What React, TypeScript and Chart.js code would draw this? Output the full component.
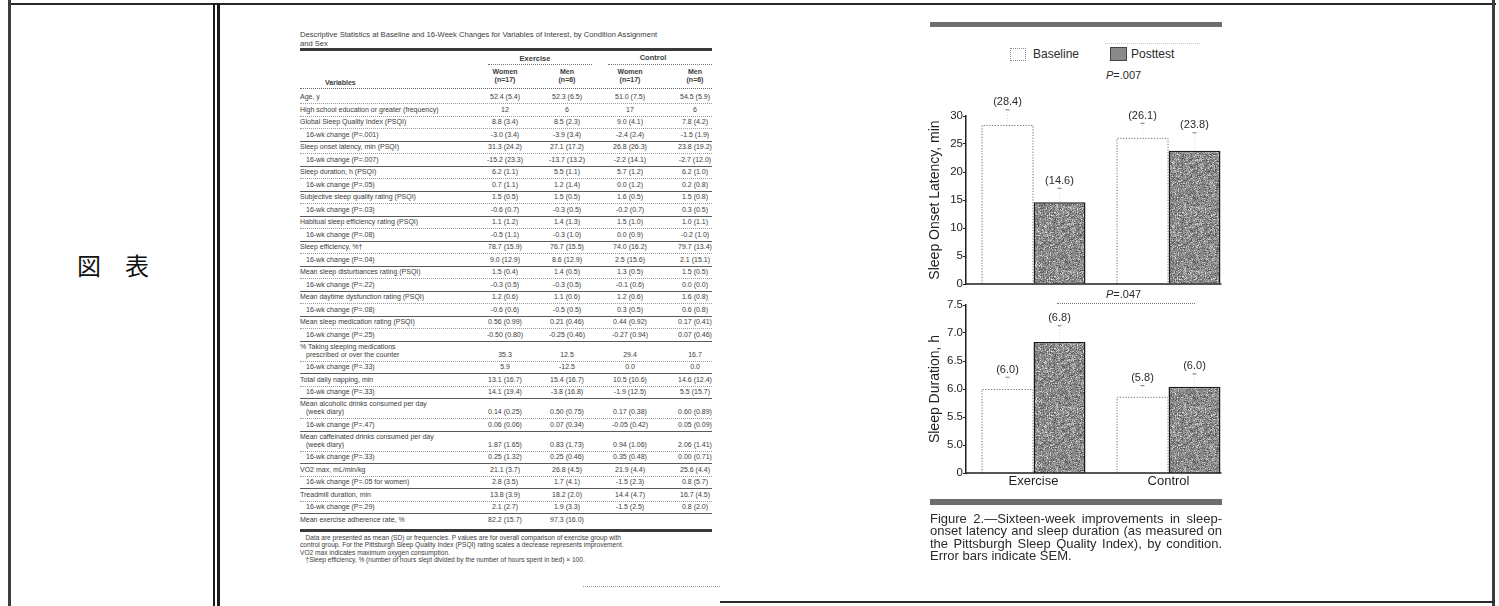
import React, { useEffect, useRef } from "react";
import { Chart, registerables } from "chart.js";

Chart.register(...registerables);

// ---------- chart data ----------
const groups = ["Exercise", "Control"];
const seriesNames = ["Baseline", "Posttest"];

const latencyBaseline = [28.4, 26.1];
const latencyPosttest = [14.6, 23.8];
const latencyBaselineSem = [2.7, 2.6];
const latencyPosttestSem = [2.5, 3.2];
const latencyBaselineLabels = ["(28.4)", "(26.1)"];
const latencyPosttestLabels = ["(14.6)", "(23.8)"];

const durationBaseline = [6.0, 5.86];
const durationPosttest = [6.84, 6.04];
const durationBaselineSem = [0.21, 0.2];
const durationPosttestSem = [0.29, 0.23];
const durationBaselineLabels = ["(6.0)", "(5.8)"];
const durationPosttestLabels = ["(6.8)", "(6.0)"];

const latencyTickMin = 0;
const latencyTickMax = 30;
const latencyTickStep = 5;
const durationTickMin = 4.5;
const durationTickMax = 7.5;
const durationTickStep = 0.5;
const durationBreakLabel = "0";

// ---------- table data ----------
const tableTitle = [
  "Descriptive Statistics at Baseline and 16-Week Changes for Variables of Interest, by Condition Assignment",
  "and Sex",
];
const tableLabels = [
  "Age, y",
  "High school education or greater (frequency)",
  "Global Sleep Quality Index (PSQI)",
  "16-wk change (P=.001)",
  "Sleep onset latency, min (PSQI)",
  "16-wk change (P=.007)",
  "Sleep duration, h (PSQI)",
  "16-wk change (P=.05)",
  "Subjective sleep quality rating (PSQI)",
  "16-wk change (P=.03)",
  "Habitual sleep efficiency rating (PSQI)",
  "16-wk change (P=.08)",
  "Sleep efficiency, %\u2020",
  "16-wk change (P=.04)",
  "Mean sleep disturbances rating (PSQI)",
  "16-wk change (P=.22)",
  "Mean daytime dysfunction rating (PSQI)",
  "16-wk change (P=.08)",
  "Mean sleep medication rating (PSQI)",
  "16-wk change (P=.25)",
  "% Taking sleeping medications|prescribed or over the counter",
  "16-wk change (P=.33)",
  "Total daily napping, min",
  "16-wk change (P=.33)",
  "Mean alcoholic drinks consumed per day|(week diary)",
  "16-wk change (P=.47)",
  "Mean caffeinated drinks consumed per day|(week diary)",
  "16-wk change (P=.33)",
  "VO2 max, mL/min/kg",
  "16-wk change (P=.05 for women)",
  "Treadmill duration, min",
  "16-wk change (P=.29)",
  "Mean exercise adherence rate, %",
];
const exerciseWomen = [
  "52.4 (5.4)", "12", "8.8 (3.4)", "-3.0 (3.4)", "31.3 (24.2)", "-15.2 (23.3)", "6.2 (1.1)", "0.7 (1.1)",
  "1.5 (0.5)", "-0.6 (0.7)", "1.1 (1.2)", "-0.5 (1.1)", "78.7 (15.9)", "9.0 (12.9)", "1.5 (0.4)", "-0.3 (0.5)",
  "1.2 (0.6)", "-0.6 (0.6)", "0.56 (0.99)", "-0.50 (0.80)", "35.3", "5.9", "13.1 (16.7)", "14.1 (19.4)",
  "0.14 (0.25)", "0.06 (0.06)", "1.87 (1.65)", "0.25 (1.32)", "21.1 (3.7)", "2.8 (3.5)", "13.8 (3.9)", "2.1 (2.7)",
  "82.2 (15.7)",
];
const exerciseMen = [
  "52.3 (6.5)", "6", "8.5 (2.3)", "-3.9 (3.4)", "27.1 (17.2)", "-13.7 (13.2)", "5.5 (1.1)", "1.2 (1.4)",
  "1.5 (0.5)", "-0.3 (0.5)", "1.4 (1.3)", "-0.3 (1.0)", "76.7 (15.5)", "8.6 (12.9)", "1.4 (0.5)", "-0.3 (0.5)",
  "1.1 (0.6)", "-0.5 (0.5)", "0.21 (0.46)", "-0.25 (0.46)", "12.5", "-12.5", "15.4 (16.7)", "-3.8 (16.8)",
  "0.50 (0.75)", "0.07 (0.34)", "0.83 (1.73)", "0.25 (0.46)", "26.8 (4.5)", "1.7 (4.1)", "18.2 (2.0)", "1.9 (3.3)",
  "97.3 (16.0)",
];
const controlWomen = [
  "51.0 (7.5)", "17", "9.0 (4.1)", "-2.4 (2.4)", "26.8 (26.3)", "-2.2 (14.1)", "5.7 (1.2)", "0.0 (1.2)",
  "1.6 (0.5)", "-0.2 (0.7)", "1.5 (1.0)", "0.0 (0.9)", "74.0 (16.2)", "2.5 (15.6)", "1.3 (0.5)", "-0.1 (0.6)",
  "1.2 (0.6)", "0.3 (0.5)", "0.44 (0.92)", "-0.27 (0.94)", "29.4", "0.0", "10.5 (10.6)", "-1.9 (12.5)",
  "0.17 (0.38)", "-0.05 (0.42)", "0.94 (1.06)", "0.35 (0.48)", "21.9 (4.4)", "-1.5 (2.3)", "14.4 (4.7)", "-1.5 (2.5)",
  "",
];
const controlMen = [
  "54.5 (5.9)", "6", "7.8 (4.2)", "-1.5 (1.9)", "23.8 (19.2)", "-2.7 (12.0)", "6.2 (1.0)", "0.2 (0.8)",
  "1.5 (0.8)", "0.3 (0.5)", "1.0 (1.1)", "-0.2 (1.0)", "79.7 (13.4)", "2.1 (15.1)", "1.5 (0.5)", "0.0 (0.0)",
  "1.6 (0.8)", "0.6 (0.8)", "0.17 (0.41)", "0.07 (0.46)", "16.7", "0.0", "14.6 (12.4)", "5.5 (15.7)",
  "0.60 (0.89)", "0.05 (0.09)", "2.06 (1.41)", "0.00 (0.71)", "25.6 (4.4)", "0.8 (5.7)", "16.7 (4.5)", "0.8 (2.0)",
  "",
];
const tableFootnotes = [
  "\u00a0\u00a0\u00a0Data are presented as mean (SD) or frequencies. P values are for overall comparison of exercise group with",
  "control group. For the Pittsburgh Sleep Quality Index (PSQI) rating scales a decrease represents improvement.",
  "VO2 max indicates maximum oxygen consumption.",
  "\u00a0\u00a0\u00a0\u2020Sleep efficiency, % (number of hours slept divided by the number of hours spent in bed) \u00d7 100.",
];
const captionLines = [
  "Figure 2.\u2014Sixteen-week improvements in sleep-",
  "onset latency and sleep duration (as measured on",
  "the Pittsburgh Sleep Quality Index), by condition.",
  "Error bars indicate SEM.",
];

const FONT = "'Liberation Sans', Arial, Helvetica, sans-serif";

function makeSpeckle(ctx: CanvasRenderingContext2D): CanvasPattern | string {
  const c = document.createElement("canvas");
  c.width = 64;
  c.height = 64;
  const g = c.getContext("2d");
  if (!g) return "#8c8c8c";
  g.fillStyle = "#8a8a8a";
  g.fillRect(0, 0, 64, 64);
  let s = 987654321;
  const rnd = () => {
    s = (s * 1103515245 + 12345) % 2147483648;
    return s / 2147483648;
  };
  for (let i = 0; i < 2200; i++) {
    const x = Math.floor(rnd() * 64);
    const y = Math.floor(rnd() * 64);
    const v = rnd();
    g.fillStyle = v < 0.45 ? "#5c5c5c" : v < 0.9 ? "#b8b8b8" : "#dcdcdc";
    g.fillRect(x, y, 1, 1);
  }
  return ctx.createPattern(c, "repeat") || "#8c8c8c";
}

function makeDecor(
  baseSem: number[],
  postSem: number[],
  baseLabels: string[],
  postLabels: string[]
) {
  return {
    id: "decor",
    afterDatasetsDraw(chart: any) {
      const ctx = chart.ctx as CanvasRenderingContext2D;
      const y = chart.scales.y;
      const area = chart.chartArea;
      const m0 = chart.getDatasetMeta(0);
      const m1 = chart.getDatasetMeta(1);
      ctx.save();
      // dotted outline of baseline bars
      ctx.strokeStyle = "#6f6f6f";
      ctx.lineWidth = 1;
      ctx.setLineDash([1.2, 1.6]);
      m0.data.forEach((el: any) => {
        const l = el.x - el.width / 2;
        const r = el.x + el.width / 2;
        const b = Math.min(el.base, area.bottom);
        ctx.beginPath();
        ctx.moveTo(l + 0.5, b);
        ctx.lineTo(l + 0.5, el.y + 0.5);
        ctx.lineTo(r - 0.5, el.y + 0.5);
        ctx.lineTo(r - 0.5, b);
        ctx.stroke();
      });
      ctx.setLineDash([]);
      // x baseline
      const last = m1.data[m1.data.length - 1];
      ctx.strokeStyle = "#1e1e1e";
      ctx.lineWidth = 1.5;
      ctx.beginPath();
      ctx.moveTo(area.left, area.bottom);
      ctx.lineTo(last.x + last.width / 2 + 1, area.bottom);
      ctx.stroke();
      // error bars + labels
      const drawErr = (meta: any, vals: number[], sems: number[], labels: string[]) => {
        meta.data.forEach((el: any, i: number) => {
          const capY = y.getPixelForValue(vals[i] + sems[i]);
          ctx.strokeStyle = "rgba(150,150,150,0.5)";
          ctx.lineWidth = 0.6;
          ctx.setLineDash([1, 2]);
          ctx.beginPath();
          ctx.moveTo(el.x, el.y);
          ctx.lineTo(el.x, capY);
          ctx.stroke();
          ctx.setLineDash([]);
          ctx.strokeStyle = "#777";
          ctx.lineWidth = 1;
          ctx.beginPath();
          ctx.moveTo(el.x - 2, capY);
          ctx.lineTo(el.x + 2, capY);
          ctx.stroke();
          ctx.fillStyle = "#2a2a2a";
          ctx.font = `11px ${FONT}`;
          ctx.textAlign = "center";
          ctx.textBaseline = "bottom";
          ctx.fillText(labels[i], el.x, capY - 2);
        });
      };
      drawErr(m0, chart.data.datasets[0].data, baseSem, baseLabels);
      drawErr(m1, chart.data.datasets[1].data, postSem, postLabels);
      ctx.restore();
    },
  };
}

function BarChart(props: {
  top: number;
  height: number;
  base: number[];
  post: number[];
  baseSem: number[];
  postSem: number[];
  baseLabels: string[];
  postLabels: string[];
  min: number;
  max: number;
  step: number;
  title: string;
  showX: boolean;
  padTop: number;
  padBottom: number;
  xHeight: number;
  tickFmt: (v: number) => string;
}) {
  const ref = useRef<HTMLCanvasElement | null>(null);
  useEffect(() => {
    const canvas = ref.current;
    if (!canvas) return;
    const ctx = canvas.getContext("2d");
    if (!ctx) return;
    const pattern = makeSpeckle(ctx);
    const chart = new Chart(canvas, {
      type: "bar",
      data: {
        labels: groups,
        datasets: [
          {
            label: seriesNames[0],
            data: props.base,
            backgroundColor: "#ffffff",
            borderWidth: 0,
            categoryPercentage: 0.77,
            barPercentage: 1,
          },
          {
            label: seriesNames[1],
            data: props.post,
            backgroundColor: pattern as any,
            borderColor: "#1c1c1c",
            borderWidth: 1.5,
            borderSkipped: "bottom",
            categoryPercentage: 0.77,
            barPercentage: 1,
          },
        ],
      },
      options: {
        animation: false,
        responsive: false,
        maintainAspectRatio: false,
        events: [],
        layout: { padding: { left: 4, right: 14, top: props.padTop, bottom: props.padBottom } },
        plugins: { legend: { display: false }, tooltip: { enabled: false } },
        scales: {
          x: {
            type: "category",
            grid: { display: false, drawTicks: false, tickLength: 0 },
            border: { display: false },
            ticks: {
              display: props.showX,
              padding: 1,
              color: "#1e1e1e",
              font: { family: FONT, size: 13 },
            },
            afterFit: (s: any) => {
              s.height = props.xHeight;
            },
          },
          y: {
            type: "linear",
            min: props.min,
            max: props.max,
            border: { display: true, color: "#1e1e1e", width: 1.5 },
            grid: { display: true, drawOnChartArea: false, drawTicks: true, tickLength: 3, color: "#1e1e1e", lineWidth: 1 },
            ticks: {
              stepSize: props.step,
              padding: 0,
              color: "#1e1e1e",
              font: { family: FONT, size: 11.5 },
              callback: (v: any) => props.tickFmt(Number(v)),
            },
            title: {
              display: true,
              text: props.title,
              color: "#1e1e1e",
              font: { family: FONT, size: 14 },
              padding: { top: 3, bottom: 3 },
            },
            afterFit: (s: any) => {
              s.width = 42;
            },
          },
        },
      },
      plugins: [makeDecor(props.baseSem, props.postSem, props.baseLabels, props.postLabels)],
    } as any);
    return () => chart.destroy();
  }, []);
  return (
    <canvas
      ref={ref}
      width={330}
      height={props.height}
      style={{ position: "absolute", left: 920, top: props.top, width: 330, height: props.height }}
    />
  );
}

const abs = (s: React.CSSProperties): React.CSSProperties => ({ position: "absolute", ...s });

function Table() {
  const els: React.ReactNode[] = [];
  const colCenters = [505, 567, 630, 695];
  const cols = [exerciseWomen, exerciseMen, controlWomen, controlMen];
  let y = 91;
  tableLabels.forEach((lab, i) => {
    const parts = lab.split("|");
    const h = parts.length > 1 ? 20 : 12.5;
    const sub = lab.startsWith("16-wk");
    const valTop = y + h - 10.5;
    els.push(
      <div key={"l" + i} style={abs({ left: sub ? 306 : 300, top: valTop - (parts.length - 1) * 8, width: 200, fontSize: 7, lineHeight: "8px", whiteSpace: "nowrap" })}>
        {parts.map((p, k) => (
          <div key={k} style={{ paddingLeft: k > 0 ? 6 : 0 }}>{p}</div>
        ))}
      </div>
    );
    cols.forEach((c, j) => {
      els.push(
        <div key={"v" + i + "_" + j} style={abs({ left: colCenters[j] - 30, top: valTop, width: 60, textAlign: "center", fontSize: 7, lineHeight: "8px", whiteSpace: "nowrap" })}>
          {c[i]}
        </div>
      );
    });
    if (i < tableLabels.length - 1) {
      els.push(
        <div key={"r" + i} style={abs({ left: 300, top: y + h - 0.5, width: 412, height: 0, borderTop: sub ? "1px solid #5a5a5a" : "1px dotted #9a9a9a" })} />
      );
    }
    y += h;
  });
  return (
    <div style={abs({ left: 0, top: 0, width: 1499, height: 606, fontFamily: FONT, color: "#3c3c3c" })}>
      <div style={abs({ left: 300, top: 30, fontSize: 7.6, lineHeight: "9px", whiteSpace: "nowrap" })}>
        {tableTitle.map((t, i) => (
          <div key={i}>{t}</div>
        ))}
      </div>
      <div style={abs({ left: 300, top: 48, width: 412, height: 2.5, background: "#3a3a3a" })} />
      <div style={abs({ left: 485, top: 54, width: 100, textAlign: "center", fontSize: 7.5, fontWeight: "bold" })}>Exercise</div>
      <div style={abs({ left: 603, top: 53, width: 100, textAlign: "center", fontSize: 7.5, fontWeight: "bold" })}>Control</div>
      <div style={abs({ left: 488, top: 64, width: 104, height: 0, borderTop: "1px dotted #777" })} />
      <div style={abs({ left: 608, top: 64, width: 104, height: 0, borderTop: "1px dotted #777" })} />
      {["Women|(n=17)", "Men|(n=6)", "Women|(n=17)", "Men|(n=6)"].map((t, j) => (
        <div key={"h" + j} style={abs({ left: [505, 567, 630, 695][j] - 30, top: 68, width: 60, textAlign: "center", fontSize: 7, lineHeight: "8px", fontWeight: "bold" })}>
          {t.split("|").map((p, k) => (
            <div key={k}>{p}</div>
          ))}
        </div>
      ))}
      <div style={abs({ left: 325, top: 79, fontSize: 7, fontWeight: "bold" })}>Variables</div>
      <div style={abs({ left: 300, top: 88, width: 412, height: 0, borderTop: "1px dotted #666" })} />
      {els}
      <div style={abs({ left: 300, top: 529, width: 412, height: 2.5, background: "#3a3a3a" })} />
      <div style={abs({ left: 300, top: 534, fontSize: 6.6, lineHeight: "7.4px", whiteSpace: "nowrap" })}>
        {tableFootnotes.map((t, i) => (
          <div key={i}>{t}</div>
        ))}
      </div>
    </div>
  );
}

export default function App() {
  return (
    <div style={{ position: "fixed", left: 0, top: 0, width: 1499, height: 606, background: "#ffffff", overflow: "hidden", fontFamily: FONT }}>
      {/* frame */}
      <div style={abs({ left: 8, top: 3, width: 1488, height: 2, background: "#2a2a2a" })} />
      <div style={abs({ left: 8, top: 0, width: 3, height: 606, background: "#3c3c3c" })} />
      <div style={abs({ left: 213, top: 3, width: 2, height: 603, background: "#1a1a1a" })} />
      <div style={abs({ left: 217, top: 3, width: 2.5, height: 603, background: "#1a1a1a" })} />
      <div style={abs({ left: 1492, top: 0, width: 3, height: 606, background: "#3c3c3c" })} />
      <div style={abs({ left: 720, top: 601, width: 775, height: 2, background: "#2a2a2a" })} />
      <div style={abs({ left: 583, top: 586, width: 137, height: 0, borderTop: "1px dotted #999" })} />

      {/* left cell */}
      <div style={abs({ left: 77, top: 250, fontFamily: "'Noto Sans CJK JP', sans-serif", fontSize: 24, lineHeight: "30px", color: "#111", whiteSpace: "nowrap" })}>
        図{"\u3000"}表
      </div>

      <Table />

      {/* figure decorations */}
      <div style={abs({ left: 930, top: 22, width: 292, height: 5, background: "#6e6e6e" })} />
      <div style={abs({ left: 1010, top: 48, width: 16, height: 13, border: "1px dotted #8a8a8a", boxSizing: "border-box" })} />
      <div style={abs({ left: 1033, top: 47, fontSize: 12, color: "#2a2a2a" })}>{seriesNames[0]}</div>
      <div style={abs({ left: 1110, top: 47, width: 17, height: 14, background: "#8a8a8a", border: "1px solid #444", boxSizing: "border-box" })} />
      <div style={abs({ left: 1131, top: 47, fontSize: 12, color: "#2a2a2a" })}>{seriesNames[1]}</div>
      <div style={abs({ left: 1105, top: 43, width: 95, height: 0, borderTop: "1px dotted #c8c8c8" })} />
      <div style={abs({ left: 1106, top: 69, fontSize: 11, color: "#2a2a2a" })}>
        <i>P</i>=.007
      </div>

      <BarChart
        top={96}
        height={200}
        base={latencyBaseline}
        post={latencyPosttest}
        baseSem={latencyBaselineSem}
        postSem={latencyPosttestSem}
        baseLabels={latencyBaselineLabels}
        postLabels={latencyPosttestLabels}
        min={latencyTickMin}
        max={latencyTickMax}
        step={latencyTickStep}
        title="Sleep Onset Latency, min"
        showX={false}
        padTop={20}
        padBottom={12}
        xHeight={0}
        tickFmt={(v) => String(v)}
      />

      <div style={abs({ left: 1106, top: 288, fontSize: 11, color: "#2a2a2a" })}>
        <i>P</i>=.047
      </div>
      <div style={abs({ left: 1057, top: 303, width: 138, height: 0, borderTop: "1px dotted #777" })} />

      <BarChart
        top={296}
        height={202}
        base={durationBaseline}
        post={durationPosttest}
        baseSem={durationBaselineSem}
        postSem={durationPosttestSem}
        baseLabels={durationBaselineLabels}
        postLabels={durationPosttestLabels}
        min={durationTickMin}
        max={durationTickMax}
        step={durationTickStep}
        title="Sleep Duration, h"
        showX={true}
        padTop={9}
        padBottom={5}
        xHeight={20}
        tickFmt={(v) => (Math.abs(v - durationTickMin) < 1e-9 ? durationBreakLabel : v.toFixed(1))}
      />

      <div style={abs({ left: 930, top: 499, width: 292, height: 6, background: "#6e6e6e" })} />
      <div style={abs({ left: 930, top: 513, width: 292, fontSize: 13, lineHeight: "12.4px", color: "#2a2a2a" })}>
        {captionLines.map((t, i) => (
          <div key={i} style={{ textAlign: "justify", textAlignLast: i < captionLines.length - 1 ? "justify" : "left", whiteSpace: "nowrap" }}>
            {t}
          </div>
        ))}
      </div>
    </div>
  );
}
